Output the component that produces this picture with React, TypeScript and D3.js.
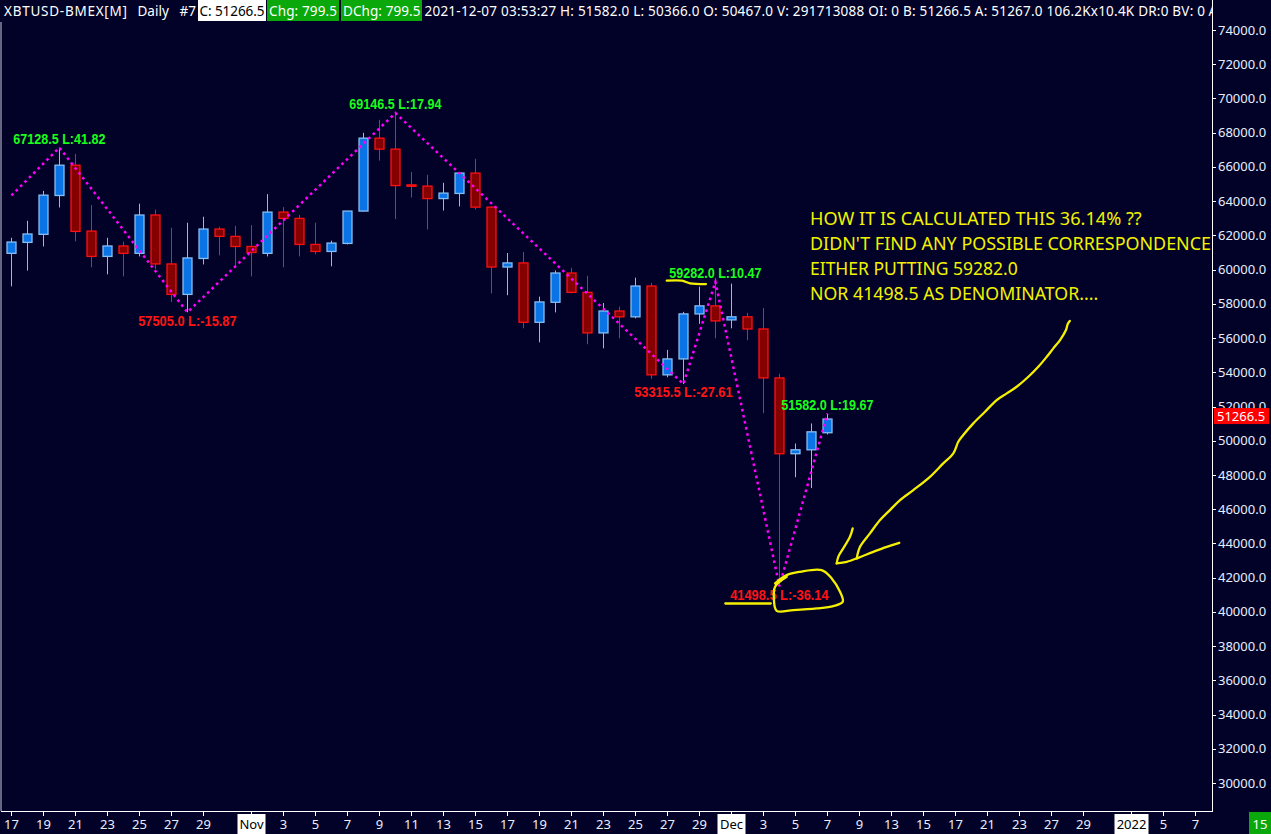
import React from "react";
import * as d3 from "d3";

// ---------------- DATA ----------------
const fmtDay = d3.timeFormat("%Y-%m-%d");
const pastDays = d3.timeDay.range(new Date(2021, 9, 17), new Date(2021, 11, 8)).map(fmtDay);
const futureDays = [
  "2021-12-08", "2021-12-09", "2021-12-10", "2021-12-13", "2021-12-14", "2021-12-15",
  "2021-12-16", "2021-12-17", "2021-12-20", "2021-12-21", "2021-12-22", "2021-12-23",
  "2021-12-24", "2021-12-27", "2021-12-28", "2021-12-29", "2021-12-30", "2021-12-31",
  "2022-01-03", "2022-01-04", "2022-01-05", "2022-01-06", "2022-01-07",
];
const slotKeys = [...pastDays, ...futureDays];

const opens = [
  60950, 61590, 62060, 64330, 66100, 62250, 60770, 61380, 60950, 63190, 60330, 58550, 60650, 62370, 61940,
  61350, 60950, 63360, 62990, 61470, 61060, 61530, 63420, 67680, 67040, 64950, 64880, 64150, 64450, 65640,
  63650, 60150, 60390, 56920, 58090, 59800, 58670, 56300, 57580, 57240, 59040, 53850, 54780, 57410, 57880,
  57060, 57240, 56530, 53670, 49240, 49470, 50467.0,
];
const highs = [
  61860, 62850, 64600, 67128.5, 66760, 63770, 61860, 61630, 63850, 63500, 62450, 62740, 63090, 62500, 62560,
  62600, 64410, 63650, 63190, 62740, 61690, 63420, 67990, 68750, 69146.5, 65710, 65540, 65070, 65660, 66470,
  63700, 60970, 61030, 58420, 59950, 60110, 59640, 58050, 57840, 59530, 59220, 55310, 57530, 59000, 59282.0,
  59180, 57470, 57760, 53910, 49840, 51010, 51582.0,
];
const lows = [
  59020, 59940, 61350, 63630, 61650, 60130, 59720, 59600, 60770, 60030, 58110, 57505.0, 60300, 60830, 60130,
  59600, 60770, 60130, 60770, 60890, 60190, 61470, 63400, 66370, 62950, 64210, 62350, 63450, 63690, 63510,
  58610, 58500, 56570, 55750, 57500, 58610, 55640, 55400, 55990, 57150, 53620, 53710, 53315.5, 56830, 55990,
  56570, 55870, 51610, 41498.5, 47870, 47230, 50366.0,
];
const closes = [
  61610, 62080, 64350, 66100, 62230, 60770, 61380, 60950, 63190, 60330, 58550, 60680, 62370, 61940, 61350,
  61000, 63360, 62990, 61470, 61060, 61550, 63420, 67680, 67040, 64910, 64870, 64150, 64470, 65640, 63650,
  60150, 60390, 56920, 58110, 59800, 58670, 56300, 57580, 57240, 59040, 53850, 54780, 57410, 57880, 57000,
  57240, 56530, 53670, 49240, 49470, 50520, 51266.5,
];

const yTickValues = d3.range(30000, 74001, 2000);

const xTickDates = [
  "2021-10-17", "2021-10-19", "2021-10-21", "2021-10-23", "2021-10-25", "2021-10-27", "2021-10-29",
  "2021-11-01", "2021-11-03", "2021-11-05", "2021-11-07", "2021-11-09", "2021-11-11", "2021-11-13",
  "2021-11-15", "2021-11-17", "2021-11-19", "2021-11-21", "2021-11-23", "2021-11-25", "2021-11-27",
  "2021-11-29", "2021-12-01", "2021-12-03", "2021-12-05", "2021-12-07", "2021-12-09", "2021-12-13",
  "2021-12-15", "2021-12-17", "2021-12-21", "2021-12-23", "2021-12-27", "2021-12-29", "2022-01-03",
  "2022-01-05", "2022-01-07",
];
const xTickLabels = [
  "17", "19", "21", "23", "25", "27", "29", "Nov", "3", "5", "7", "9", "11", "13", "15", "17", "19", "21",
  "23", "25", "27", "29", "Dec", "3", "5", "7", "9", "13", "15", "17", "21", "23", "27", "29", "2022", "5", "7",
];
const xTickBoxed = ["Nov", "Dec", "2022"];

// zigzag pivots (first one is where the line enters the visible window)
const pivotDates = ["2021-10-17", "2021-10-20", "2021-10-28", "2021-11-10", "2021-11-28", "2021-11-30", "2021-12-04", "2021-12-07"];
const pivotPrices = [64330, 67128.5, 57505.0, 69146.5, 53315.5, 59282.0, 41498.5, 51582.0];
const pivotPct = [NaN, 41.82, -15.87, 17.94, -27.61, 10.47, -36.14, 19.67];

// freehand yellow ink, in chart coordinates [slot, price]
const inkUnderline1 = [[40.96, 59350], [41.91, 59350], [42.41, 59200], [43.41, 59155]];
const inkUnderline2 = [[44.62, 40490], [47.46, 40490]];
const inkLoop = [
  [47.73, 41662], [48.46, 42147], [49.29, 42340], [50.64, 42440], [51.27, 41955], [51.79, 41171],
  [51.96, 40587], [51.37, 40336], [50.33, 40201], [48.87, 40102], [47.83, 40061], [47.66, 40686],
  [47.73, 41464], [48.46, 42048],
];
const inkShaft = [
  [66.15, 57000], [66.02, 56817], [65.91, 56466], [65.54, 55882], [65.12, 55397], [64.71, 54906],
  [64.18, 54321], [63.56, 53737], [62.83, 53152], [62.21, 52767], [61.58, 52375], [60.85, 51692],
  [60.12, 51014], [59.49, 50330], [59.18, 49938], [58.87, 49260], [58.24, 48676], [57.41, 47892],
  [56.37, 47115], [55.54, 46531], [54.91, 45946], [54.29, 45362], [53.66, 44584], [53.04, 43802],
  [52.83, 43124],
];
const inkBarbLeft = [[52.58, 44877], [52.41, 44386], [51.99, 43708], [51.68, 43217], [51.58, 42831]];
const inkBarbBottom = [[51.58, 42831], [52.21, 42925], [52.93, 43159], [53.87, 43509], [54.71, 43802], [55.49, 44036]];

const noteLines = [
  "HOW IT IS CALCULATED THIS 36.14% ??",
  "DIDN'T FIND ANY POSSIBLE CORRESPONDENCE",
  "EITHER PUTTING 59282.0",
  "NOR 41498.5 AS DENOMINATOR....",
];

const symbol = "XBTUSD-BMEX[M]";
const period = "Daily";
const seriesNo = "#7";
const lastClose = 51266.5;
const change = 799.5;
const dayChange = 799.5;
const stamp = "2021-12-07 03:53:27";
const lastHigh = 51582.0;
const lastLow = 50366.0;
const lastOpen = 50467.0;
const volume = "291713088";
const bid = 51266.5;
const ask = 51267.0;
const barCountdown = "15";

// ---------------- STYLE ----------------
const BG = "#020228";
const FONT = "'Noto Sans', 'DejaVu Sans', sans-serif";
const LBL_FONT = "'Liberation Sans', Arial, sans-serif";
const UP_FILL = "#0a74e6";
const UP_EDGE = "#86bdf2";
const DN_FILL = "#860000";
const DN_EDGE = "#ff1010";
const AXIS_TXT = "#e8eeff";
const GREEN_BOX = "#0aa80a";
const ZZ = "#ff00ff";
const INK = "#f5f000";

export default function App() {
  const W = 1271;
  const H = 834;
  const plotRight = 1212;
  const plotBottom = 811;

  const x = d3.scaleLinear().domain([0, slotKeys.length - 1]).range([11.4, 11.4 + 16 * (slotKeys.length - 1)]);
  const y = d3.scaleLinear().domain([30000, 74000]).range([783, 30]);
  const slotOf = new Map(slotKeys.map((k, i) => [k, i]));
  const f1 = d3.format(".1f");

  const candles = pastDays.map((d, i) => ({ d, i, o: opens[i], h: highs[i], l: lows[i], c: closes[i] }));
  const pivots = pivotDates.map((d, i) => ({ s: slotOf.get(d) as number, p: pivotPrices[i], pct: pivotPct[i] }));

  const zz = d3.line<any>().x((d) => x(d.s)).y((d) => y(d.p));
  const ink = d3.line<number[]>().x((d) => x(d[0])).y((d) => y(d[1])).curve(d3.curveCatmullRom);

  const hdrY = 15.5;
  const quote =
    `${stamp} H: ${f1(lastHigh)} L: ${f1(lastLow)} O: ${f1(lastOpen)} V: ${volume} OI: 0 ` +
    `B: ${f1(bid)} A: ${f1(ask)} 106.2Kx10.4K DR:0 BV: 0`;

  return (
    <div style={{ position: "fixed", left: 0, top: 0 }}>
      <svg width={W} height={H} style={{ display: "block" }} fontFamily={FONT}>
        <defs>
          <clipPath id="plotClip">
            <rect x={0} y={0} width={plotRight} height={plotBottom} />
          </clipPath>
        </defs>
        <rect x={0} y={0} width={W} height={H} fill={BG} />

        {/* candles */}
        <g clipPath="url(#plotClip)">
          {candles.map((c) => {
            const up = c.c >= c.o;
            const cx = Math.round(x(c.i)) + 0.5;
            const top = y(Math.max(c.o, c.c));
            const bot = y(Math.min(c.o, c.c));
            return (
              <g key={c.d}>
                <line x1={cx} x2={cx} y1={y(c.h)} y2={y(c.l)} stroke={up ? UP_EDGE : DN_EDGE} strokeWidth={1} />
                <rect
                  x={cx - 4.5}
                  y={top}
                  width={9}
                  height={Math.max(1, bot - top)}
                  fill={up ? UP_FILL : DN_FILL}
                  stroke={up ? UP_EDGE : DN_EDGE}
                  strokeWidth={1.3}
                />
              </g>
            );
          })}

          {/* zigzag */}
          <path d={zz(pivots) as string} fill="none" stroke={ZZ} strokeWidth={2.5} strokeDasharray="2.6 3.6" />

          {/* pivot labels */}
          {pivots.map((pv, i) => {
            if (isNaN(pv.pct)) return null;
            const isHigh = pv.pct > 0;
            const txt = `${f1(pv.p)} L:${pv.pct.toFixed(2)}`;
            const w = txt.length * 6.15;
            return (
              <text
                key={i}
                x={x(pv.s) - w / 2}
                y={isHigh ? y(pv.p) - 4 : y(pv.p) + 13.5}
                fontFamily={LBL_FONT}
                fontWeight="bold"
                fontSize={15}
                fill={isHigh ? "#1aff1a" : "#ff1414"}
                textLength={w}
                lengthAdjust="spacingAndGlyphs"
              >
                {txt}
              </text>
            );
          })}

          {/* yellow ink */}
          <g fill="none" stroke={INK} strokeWidth={2.3} strokeLinecap="round" strokeLinejoin="round">
            <path d={ink(inkUnderline1) as string} />
            <path d={ink(inkUnderline2) as string} />
            <path d={ink(inkLoop) as string} />
            <path d={ink(inkShaft) as string} />
            <path d={ink(inkBarbLeft) as string} />
            <path d={ink(inkBarbBottom) as string} />
          </g>

          {/* note */}
          {noteLines.map((t, i) => {
            const ends = [1141.7, 1211, 1017.7, 1098.3];
            return (
              <text
                key={i}
                x={810}
                y={225 + i * 25}
                fontSize={17.5}
                fill="#f2f200"
                textLength={ends[i] - 810}
                lengthAdjust="spacingAndGlyphs"
              >
                {t}
              </text>
            );
          })}
        </g>

        {/* frame */}
        <line x1={1} x2={1} y1={22} y2={plotBottom} stroke="#c8c8d8" strokeWidth={1} />
        <line x1={1} x2={plotRight} y1={plotBottom + 0.5} y2={plotBottom + 0.5} stroke="#ffffff" strokeWidth={1} />
        <line x1={plotRight + 0.5} x2={plotRight + 0.5} y1={0} y2={plotBottom + 1} stroke="#ffffff" strokeWidth={1} />

        {/* y axis */}
        {yTickValues.map((v) => (
          <g key={v}>
            <line x1={plotRight} x2={plotRight + 4} y1={Math.round(y(v)) + 0.5} y2={Math.round(y(v)) + 0.5} stroke="#ffffff" />
            <text x={plotRight + 6} y={y(v)} dy="0.35em" fontSize={13} fill={AXIS_TXT}>
              {f1(v)}
            </text>
          </g>
        ))}
        <rect x={plotRight + 2} y={y(lastClose) - 11} width={55} height={16} fill="#ff0000" />
        <text x={plotRight + 5} y={y(lastClose) - 3} dy="0.35em" fontSize={13} fill="#ffffff">
          {f1(lastClose)}
        </text>

        {/* x axis */}
        {xTickDates.map((d, i) => {
          const s = slotOf.get(d) as number;
          const tx = Math.round(x(s)) + 0.5;
          const label = xTickLabels[i];
          const boxed = xTickBoxed.includes(label);
          const bw = label.length * 6 + 10;
          return (
            <g key={d}>
              <line x1={tx} x2={tx} y1={plotBottom} y2={plotBottom + 5} stroke="#ffffff" />
              {boxed && <rect x={tx - bw / 2} y={plotBottom + 3} width={bw} height={H - plotBottom - 3} fill="#ffffff" />}
              <text x={tx} y={829} textAnchor="middle" fontSize={13} fill={boxed ? "#000000" : AXIS_TXT}>
                {label}
              </text>
            </g>
          );
        })}
        <rect x={1249} y={plotBottom + 1} width={W - 1249} height={H - plotBottom - 1} fill={GREEN_BOX} />
        <text x={1260} y={829} textAnchor="middle" fontSize={13} fill="#ffffff">
          {barCountdown}
        </text>

        {/* header */}
        <g fontSize={13.5} fill="#ffffff">
          <text x={4} y={hdrY} textLength={123} lengthAdjust="spacing">{symbol}</text>
          <text x={137.5} y={hdrY}>{period}</text>
          <text x={179.6} y={hdrY}>{seriesNo}</text>
          <rect x={198} y={0} width={68} height={21} fill="#ffffff" />
          <text x={199.5} y={hdrY} fill="#000000" textLength={65} lengthAdjust="spacing">{`C: ${f1(lastClose)}`}</text>
          <rect x={267} y={0} width={72} height={21} fill={GREEN_BOX} />
          <text x={269} y={hdrY} textLength={68} lengthAdjust="spacing">{`Chg: ${f1(change)}`}</text>
          <rect x={341} y={0} width={81} height={21} fill={GREEN_BOX} />
          <text x={343} y={hdrY} textLength={77.5} lengthAdjust="spacing">{`DChg: ${f1(dayChange)}`}</text>
          <g clipPath="url(#plotClip)">
            <text x={424.5} y={hdrY} textLength={780.5} lengthAdjust="spacing">{quote}</text>
            <text x={1208.5} y={hdrY}>{"A"}</text>
          </g>
        </g>
      </svg>
    </div>
  );
}
